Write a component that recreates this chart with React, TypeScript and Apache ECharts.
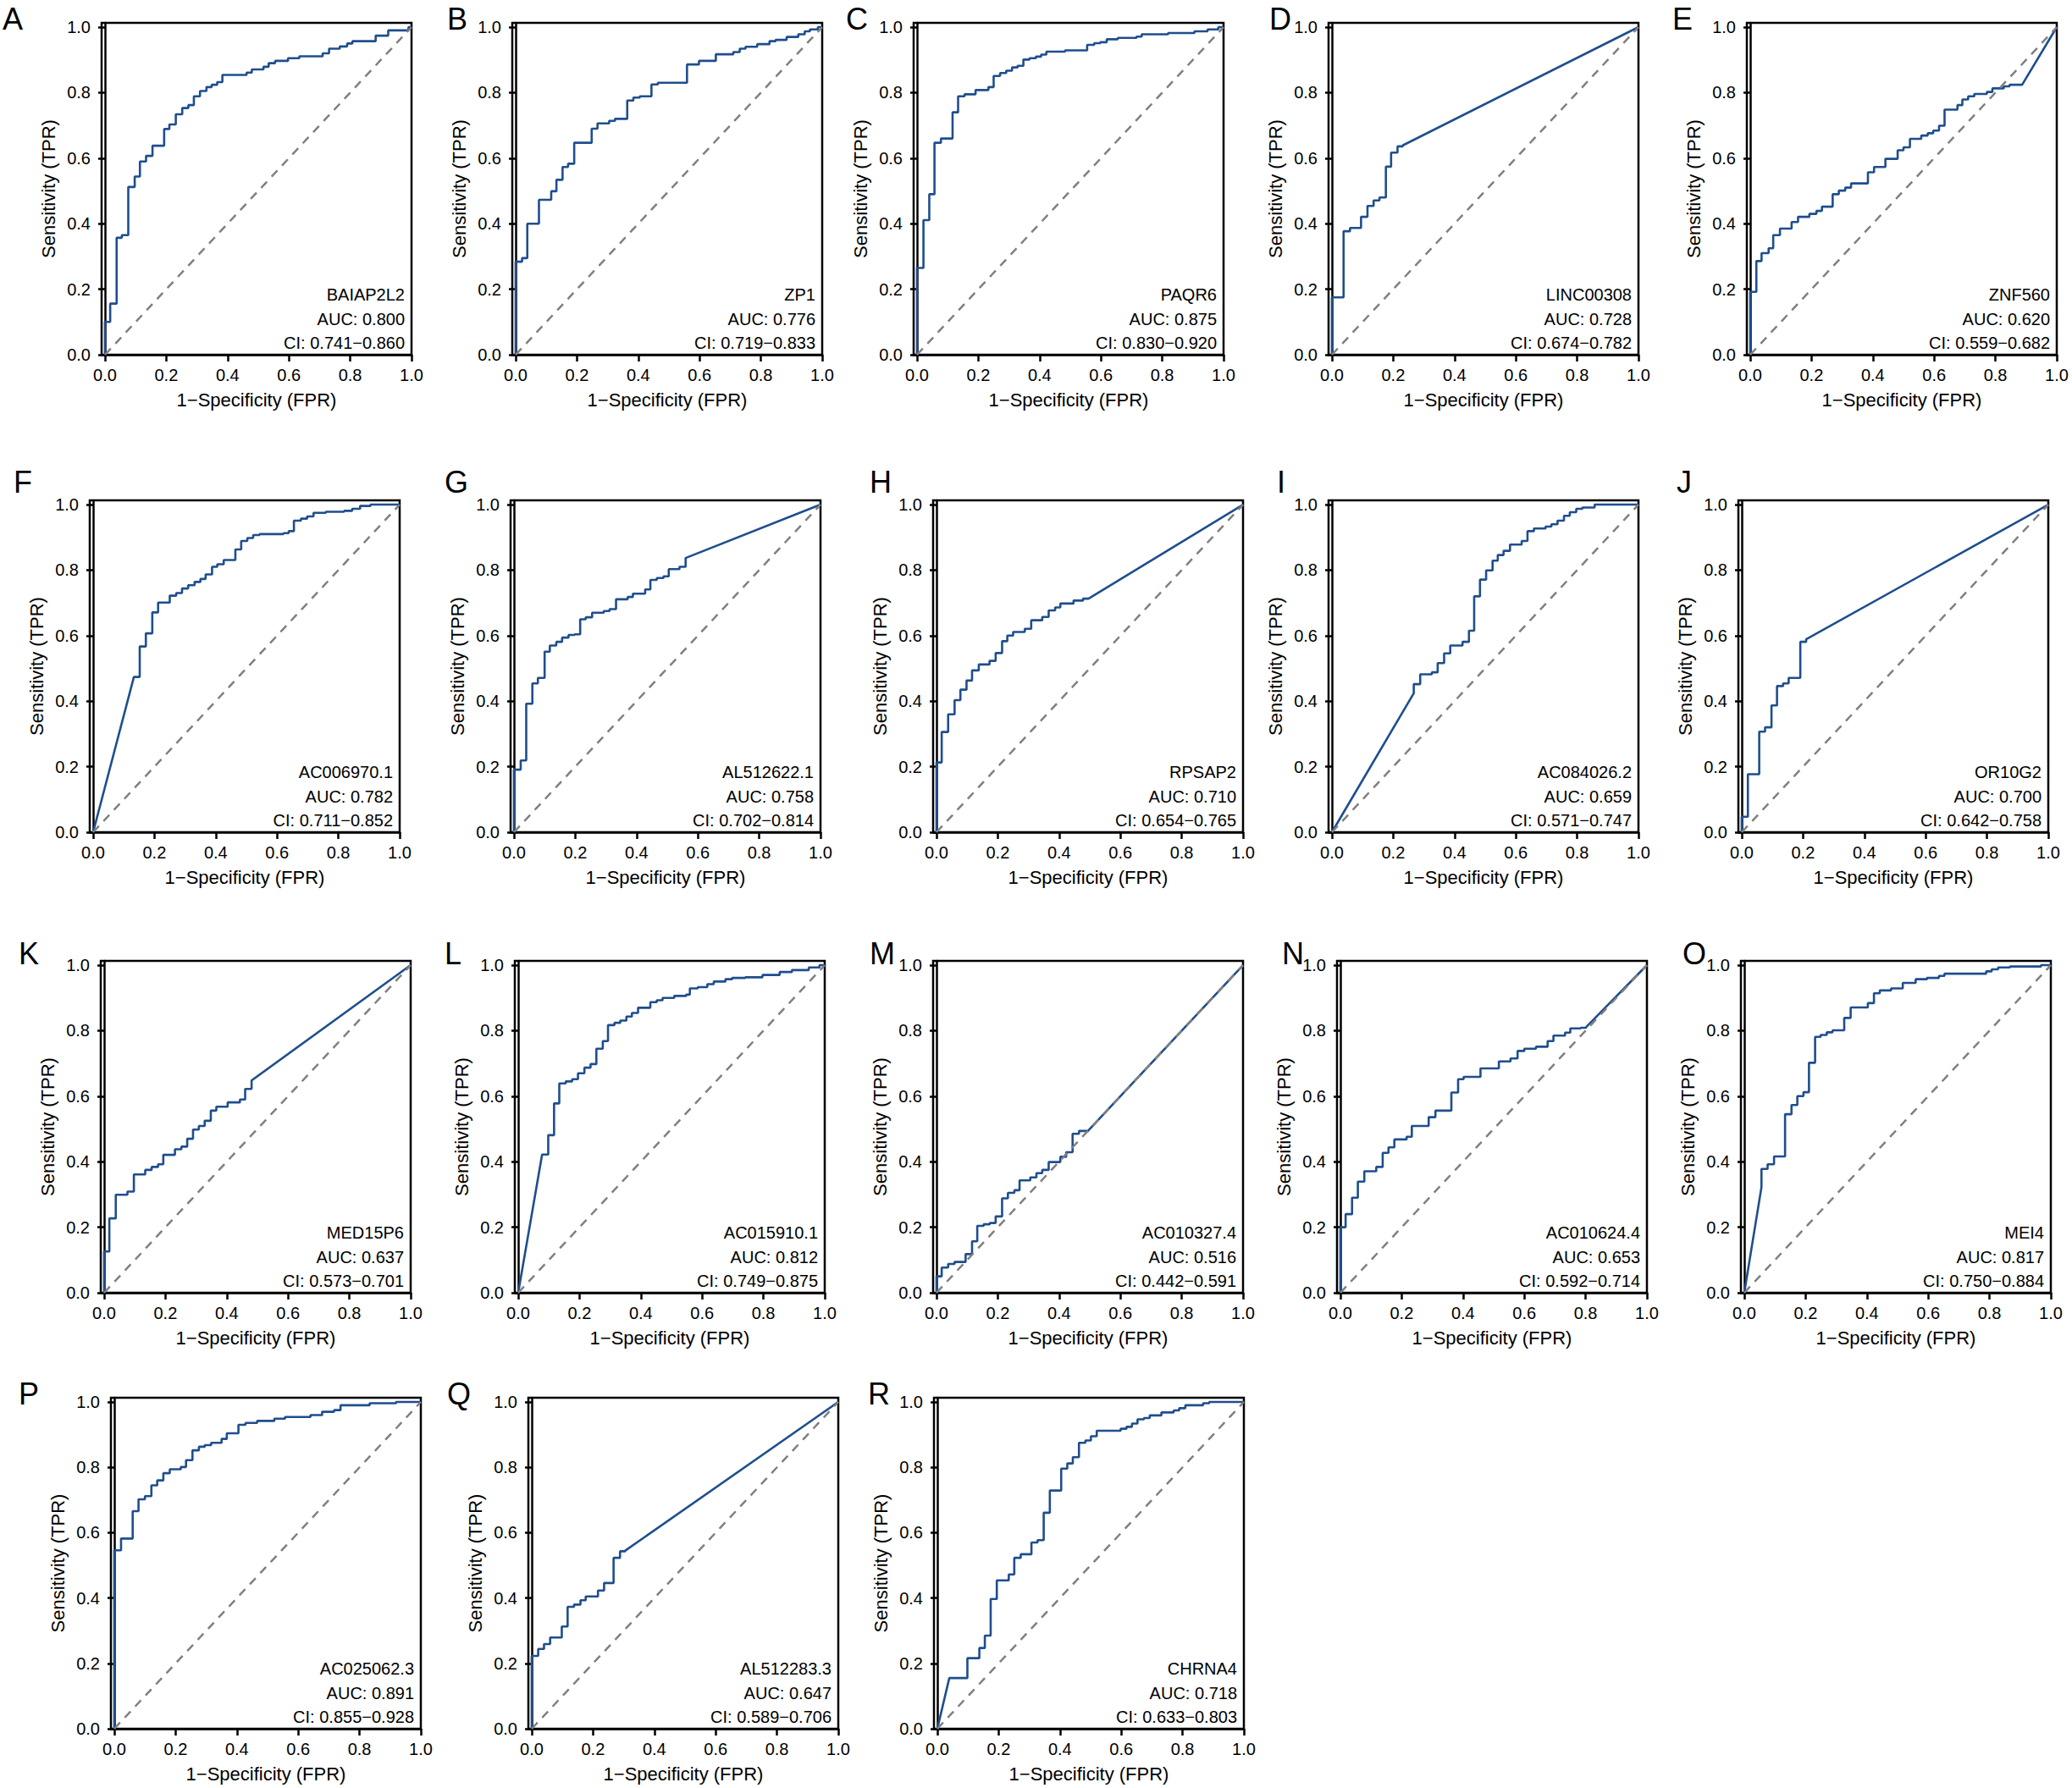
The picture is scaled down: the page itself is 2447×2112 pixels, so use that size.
import React, { useEffect, useRef } from "react";
import * as echarts from "echarts";

// ---------- DATA ----------
const TICKS = [0, 0.2, 0.4, 0.6, 0.8, 1.0];
const LETTERS = ["A","B","C","D","E","F","G","H","I","J","K","L","M","N","O","P","Q","R"];
const GENES = ["BAIAP2L2","ZP1","PAQR6","LINC00308","ZNF560","AC006970.1","AL512622.1","RPSAP2","AC084026.2","OR10G2","MED15P6","AC015910.1","AC010327.4","AC010624.4","MEI4","AC025062.3","AL512283.3","CHRNA4"];
const AUCS = ["0.800","0.776","0.875","0.728","0.620","0.782","0.758","0.710","0.659","0.700","0.637","0.812","0.516","0.653","0.817","0.891","0.647","0.718"];
const CIS = ["0.741−0.860","0.719−0.833","0.830−0.920","0.674−0.782","0.559−0.682","0.711−0.852","0.702−0.814","0.654−0.765","0.571−0.747","0.642−0.758","0.573−0.701","0.749−0.875","0.442−0.591","0.592−0.714","0.750−0.884","0.855−0.928","0.589−0.706","0.633−0.803"];

// ROC steps: [fpr, tpr] = move right to fpr, then up to tpr; [fpr, tpr, 1] = straight (tied) segment
const rocBAIAP2L2 = [[0,0.10],[0.017,0.156],[0.038,0.357],[0.055,0.365],[0.076,0.512],[0.097,0.544],[0.114,0.59],[0.134,0.607],[0.155,0.638],[0.193,0.689],[0.21,0.703],[0.231,0.734],[0.252,0.753],[0.272,0.762],[0.29,0.789],[0.31,0.805],[0.331,0.817],[0.348,0.824],[0.366,0.832],[0.383,0.854],[0.462,0.861],[0.479,0.871],[0.517,0.879],[0.534,0.89],[0.555,0.897],[0.597,0.905],[0.634,0.911],[0.71,0.92],[0.731,0.934],[0.766,0.941],[0.79,0.95],[0.807,0.957],[0.883,0.974],[0.924,0.99],[0.99,1],[1,1]];
const rocZP1 = [[0,0.284],[0.021,0.295],[0.038,0.40],[0.076,0.473],[0.116,0.499],[0.133,0.534],[0.153,0.573],[0.171,0.583],[0.191,0.647],[0.248,0.69],[0.267,0.706],[0.305,0.714],[0.324,0.72],[0.364,0.776],[0.384,0.785],[0.405,0.789],[0.443,0.825],[0.464,0.83],[0.559,0.886],[0.598,0.897],[0.653,0.917],[0.71,0.924],[0.731,0.934],[0.75,0.94],[0.788,0.948],[0.828,0.957],[0.848,0.961],[0.884,0.97],[0.922,0.978],[0.943,0.987],[0.96,0.993],[0.986,1],[1,1]];
const rocPAQR6 = [[0,0.265],[0.021,0.411],[0.04,0.49],[0.057,0.647],[0.078,0.66],[0.116,0.74],[0.134,0.789],[0.155,0.795],[0.191,0.808],[0.233,0.817],[0.25,0.851],[0.271,0.86],[0.291,0.867],[0.31,0.877],[0.328,0.882],[0.347,0.901],[0.367,0.905],[0.388,0.91],[0.405,0.916],[0.422,0.925],[0.483,0.929],[0.555,0.946],[0.578,0.951],[0.598,0.954],[0.619,0.963],[0.655,0.967],[0.716,0.971],[0.733,0.978],[0.819,0.982],[0.905,0.987],[0.948,0.993],[0.983,1],[1,1]];
const rocLINC00308 = [[0,0.175],[0.038,0.377],[0.059,0.387],[0.095,0.421],[0.116,0.454],[0.136,0.471],[0.155,0.48],[0.176,0.574],[0.193,0.617],[0.214,0.636],[0.231,0.639],[1,1,1]];
const rocZNF560 = [[0,0.192],[0.02,0.286],[0.037,0.31],[0.06,0.325],[0.075,0.365],[0.097,0.385],[0.135,0.405],[0.156,0.421],[0.193,0.43],[0.216,0.439],[0.234,0.452],[0.269,0.49],[0.289,0.501],[0.31,0.51],[0.329,0.523],[0.384,0.557],[0.404,0.573],[0.441,0.598],[0.481,0.624],[0.5,0.633],[0.521,0.659],[0.558,0.669],[0.579,0.676],[0.597,0.684],[0.616,0.699],[0.634,0.748],[0.676,0.762],[0.692,0.779],[0.711,0.789],[0.731,0.796],[0.772,0.802],[0.79,0.813],[0.827,0.819],[0.846,0.824],[0.887,0.824],[1,1,1]];
const rocAC006970 = [[0.133,0.474,1],[0.152,0.567],[0.172,0.607],[0.193,0.671],[0.212,0.701],[0.25,0.722],[0.271,0.73],[0.29,0.744],[0.31,0.754],[0.331,0.764],[0.35,0.773],[0.367,0.787],[0.388,0.81],[0.405,0.818],[0.426,0.831],[0.464,0.863],[0.483,0.889],[0.503,0.898],[0.522,0.907],[0.543,0.91],[0.621,0.913],[0.638,0.919],[0.655,0.951],[0.678,0.957],[0.698,0.964],[0.719,0.975],[0.759,0.978],[0.819,0.981],[0.845,0.987],[0.871,0.996],[0.905,1],[1,1]];
const rocAL512622 = [[0,0.191],[0.022,0.219],[0.04,0.392],[0.06,0.454],[0.078,0.471],[0.1,0.551],[0.117,0.57],[0.138,0.581],[0.157,0.594],[0.178,0.602],[0.198,0.604],[0.216,0.65],[0.234,0.656],[0.255,0.67],[0.293,0.675],[0.312,0.681],[0.333,0.711],[0.371,0.718],[0.388,0.728],[0.428,0.741],[0.445,0.77],[0.466,0.776],[0.488,0.781],[0.505,0.803],[0.54,0.81],[0.56,0.837],[1,1,1]];
const rocRPSAP2 = [[0,0.213],[0.017,0.306],[0.038,0.36],[0.059,0.403],[0.078,0.435],[0.098,0.463],[0.116,0.494],[0.138,0.512],[0.173,0.523],[0.193,0.547],[0.214,0.583],[0.231,0.6],[0.25,0.611],[0.288,0.621],[0.309,0.647],[0.345,0.657],[0.366,0.677],[0.387,0.686],[0.404,0.698],[0.447,0.707],[0.478,0.713],[0.496,0.713],[1,1,1]];
const rocAC084026 = [[0.267,0.424,1],[0.267,0.452],[0.288,0.482],[0.326,0.488],[0.345,0.516],[0.366,0.546],[0.386,0.57],[0.426,0.581],[0.447,0.615],[0.464,0.72],[0.483,0.771],[0.503,0.799],[0.524,0.829],[0.541,0.846],[0.56,0.859],[0.581,0.878],[0.619,0.889],[0.638,0.919],[0.659,0.927],[0.697,0.933],[0.716,0.94],[0.736,0.951],[0.757,0.966],[0.776,0.977],[0.797,0.987],[0.817,0.991],[0.857,1],[1,1]];
const rocOR10G2 = [[0,0.047],[0.02,0.177],[0.057,0.307],[0.076,0.32],[0.097,0.387],[0.115,0.446],[0.135,0.454],[0.153,0.471],[0.191,0.581],[0.21,0.589],[1,1,1]];
const rocMED15P6 = [[0,0.126],[0.017,0.227],[0.038,0.299],[0.076,0.309],[0.097,0.361],[0.134,0.375],[0.155,0.384],[0.176,0.392],[0.193,0.421],[0.231,0.438],[0.252,0.446],[0.271,0.47],[0.29,0.498],[0.309,0.509],[0.328,0.525],[0.348,0.556],[0.366,0.568],[0.403,0.581],[0.443,0.59],[0.46,0.622],[0.481,0.648],[1,1,1]];
const rocAC015910 = [[0.078,0.422,1],[0.098,0.481],[0.117,0.578],[0.134,0.639],[0.155,0.645],[0.176,0.652],[0.195,0.67],[0.216,0.687],[0.236,0.698],[0.255,0.745],[0.276,0.768],[0.293,0.817],[0.314,0.824],[0.333,0.831],[0.353,0.843],[0.371,0.854],[0.391,0.87],[0.431,0.887],[0.452,0.893],[0.471,0.9],[0.509,0.906],[0.548,0.91],[0.56,0.929],[0.586,0.933],[0.617,0.942],[0.638,0.95],[0.676,0.957],[0.698,0.961],[0.741,0.963],[0.797,0.97],[0.853,0.979],[0.893,0.985],[0.948,0.993],[0.983,1],[1,1]];
const rocAC010327 = [[0,0.05],[0.017,0.077],[0.038,0.088],[0.059,0.094],[0.095,0.118],[0.116,0.157],[0.133,0.204],[0.154,0.209],[0.174,0.213],[0.193,0.233],[0.214,0.288],[0.233,0.305],[0.254,0.313],[0.271,0.343],[0.306,0.352],[0.326,0.365],[0.345,0.375],[0.366,0.399],[0.404,0.415],[0.423,0.429],[0.444,0.485],[0.465,0.494],[0.496,0.496],[1,1,1]];
const rocAC010624 = [[0,0.2],[0.017,0.24],[0.038,0.29],[0.057,0.339],[0.078,0.371],[0.117,0.384],[0.138,0.427],[0.157,0.444],[0.176,0.468],[0.216,0.476],[0.233,0.509],[0.288,0.536],[0.31,0.556],[0.362,0.611],[0.384,0.652],[0.402,0.659],[0.457,0.685],[0.517,0.706],[0.555,0.715],[0.578,0.738],[0.6,0.745],[0.638,0.751],[0.676,0.768],[0.695,0.785],[0.733,0.794],[0.75,0.807],[0.784,0.809],[0.802,0.811],[1,1,1]];
const rocMEI4 = [[0.056,0.322,1],[0.056,0.378],[0.076,0.392],[0.097,0.416],[0.133,0.545],[0.154,0.573],[0.173,0.6],[0.193,0.612],[0.211,0.702],[0.231,0.781],[0.249,0.787],[0.269,0.795],[0.288,0.801],[0.326,0.839],[0.347,0.871],[0.403,0.884],[0.423,0.914],[0.442,0.923],[0.479,0.929],[0.517,0.946],[0.559,0.957],[0.596,0.961],[0.635,0.967],[0.653,0.974],[0.789,0.981],[0.807,0.987],[0.828,0.993],[0.867,0.996],[0.968,1],[1,1]];
const rocAC025062 = [[0,0.546],[0.022,0.582],[0.06,0.666],[0.079,0.702],[0.1,0.712],[0.121,0.745],[0.14,0.76],[0.16,0.782],[0.181,0.794],[0.217,0.801],[0.234,0.822],[0.255,0.852],[0.276,0.863],[0.295,0.868],[0.316,0.875],[0.35,0.887],[0.367,0.904],[0.405,0.93],[0.428,0.936],[0.466,0.942],[0.522,0.949],[0.557,0.954],[0.64,0.96],[0.678,0.97],[0.717,0.975],[0.738,0.99],[0.833,0.996],[0.919,1],[1,1]];
const rocAL512283 = [[0,0.223],[0.021,0.244],[0.04,0.259],[0.06,0.279],[0.098,0.313],[0.117,0.373],[0.138,0.38],[0.159,0.393],[0.176,0.405],[0.216,0.423],[0.236,0.446],[0.267,0.523],[0.288,0.543],[0.305,0.545],[1,1,1]];
const rocCHRNA4 = [[0.039,0.155,1],[0.098,0.216],[0.137,0.247],[0.155,0.285],[0.174,0.397],[0.194,0.454],[0.233,0.472],[0.251,0.523],[0.272,0.534],[0.307,0.57],[0.327,0.577],[0.347,0.661],[0.367,0.729],[0.404,0.796],[0.424,0.812],[0.442,0.831],[0.462,0.875],[0.483,0.882],[0.501,0.895],[0.52,0.912],[0.598,0.918],[0.617,0.924],[0.635,0.934],[0.653,0.947],[0.674,0.951],[0.693,0.959],[0.731,0.968],[0.771,0.974],[0.789,0.981],[0.809,0.99],[0.867,0.996],[0.887,1],[1,1]];

const CURVES = [rocBAIAP2L2, rocZP1, rocPAQR6, rocLINC00308, rocZNF560, rocAC006970, rocAL512622, rocRPSAP2, rocAC084026, rocOR10G2, rocMED15P6, rocAC015910, rocAC010327, rocAC010624, rocMEI4, rocAC025062, rocAL512283, rocCHRNA4];

// ---------- LAYOUT ----------
const W = 2447, H = 2112;
const ROW_TOP = [27, 591, 1135, 1651];
const ROW_H = [392, 392, 392, 391];
const ROW_LEFTS = [
  [120, 605, 1079, 1569, 2063],
  [106, 603, 1102, 1569, 2053],
  [119, 608, 1102, 1579, 2056],
  [131, 624, 1103],
];
const BOX_W = 366;
const LETTER_Y = [20, 567, 1124, 1644];
const LETTER_X = [3, 528, 999, 1499, 1975, 16, 525, 1027, 1508, 1980, 22, 525, 1027, 1514, 1987, 22, 528, 1025];
const XMIN = -0.011, YMAX = 1.013;
const FONT = "'Liberation Sans', Arial, Helvetica, sans-serif";
const BLUE = "#1f4e8d";

function buildPath(steps: number[][]) {
  const pts: number[][] = [[0, 0]];
  let py = 0;
  for (const s of steps) {
    const [x, y, d] = s;
    if (d) pts.push([x, y]);
    else { pts.push([x, py]); pts.push([x, y]); }
    py = y;
  }
  return pts;
}

export default function App() {
  const ref = useRef<HTMLDivElement>(null);
  useEffect(() => {
    document.body.style.margin = "0";
    const chart = echarts.init(ref.current!, null, { renderer: "svg", width: W, height: H });
    const grids: any[] = [], xAxes: any[] = [], yAxes: any[] = [], series: any[] = [], graphics: any[] = [];
    let idx = 0;
    ROW_LEFTS.forEach((lefts, r) => {
      lefts.forEach((left) => {
        const i = idx++;
        const top = ROW_TOP[r], h = ROW_H[r];
        grids.push({ left, top, width: BOX_W, height: h, show: true, borderColor: "#000", borderWidth: 2.5, backgroundColor: "transparent" });
        xAxes.push({
          type: "value", gridIndex: i, min: XMIN, max: 1,
          name: "1−Specificity (FPR)", nameLocation: "middle", nameGap: 42,
          nameTextStyle: { fontSize: 22, color: "#000", fontFamily: FONT },
          axisLine: { show: true, lineStyle: { color: "#000", width: 2.5 } },
          axisTick: { show: true, length: 8, lineStyle: { color: "#000", width: 2.5 }, customValues: TICKS },
          axisLabel: { fontSize: 20, color: "#000", fontFamily: FONT, margin: 14, customValues: TICKS, formatter: (v: number) => v.toFixed(1) },
          splitLine: { show: false },
        });
        yAxes.push({
          type: "value", gridIndex: i, min: 0, max: YMAX,
          name: "Sensitivity (TPR)", nameLocation: "middle", nameGap: 52,
          nameTextStyle: { fontSize: 22, color: "#000", fontFamily: FONT },
          axisLine: { show: true, lineStyle: { color: "#000", width: 2.5 } },
          axisTick: { show: true, length: 8, lineStyle: { color: "#000", width: 2.5 }, customValues: TICKS },
          axisLabel: { fontSize: 20, color: "#000", fontFamily: FONT, margin: 13, customValues: TICKS, formatter: (v: number) => v.toFixed(1) },
          splitLine: { show: false },
        });
        series.push({
          type: "line", xAxisIndex: i, yAxisIndex: i, data: buildPath(CURVES[i]),
          showSymbol: false, symbol: "none", lineStyle: { color: BLUE, width: 2.6 }, z: 2, silent: true,
        });
        series.push({
          type: "line", xAxisIndex: i, yAxisIndex: i, data: [[0, 0], [1, 1]],
          showSymbol: false, symbol: "none", lineStyle: { color: "#808080", width: 2.5, type: [10, 8] }, z: 3, silent: true,
        });
        const right = left + BOX_W - 8;
        const y0 = top + h;
        [GENES[i], "AUC: " + AUCS[i], "CI: " + CIS[i]].forEach((t, k) => {
          graphics.push({
            type: "text", x: right, y: y0 - 71 + k * 28.5, z: 10,
            style: { text: t, fill: "#000", font: `20px ${FONT}`, textAlign: "right", textVerticalAlign: "middle" },
          });
        });
        graphics.push({
          type: "text", x: LETTER_X[i], y: LETTER_Y[r] + 2, z: 10,
          style: { text: LETTERS[i], fill: "#000", font: `36px ${FONT}`, textAlign: "left", textVerticalAlign: "middle" },
        });
      });
    });
    chart.setOption({
      animation: false,
      backgroundColor: "#fff",
      grid: grids, xAxis: xAxes, yAxis: yAxes, series, graphic: graphics,
    });
    return () => chart.dispose();
  }, []);
  return <div ref={ref} style={{ width: W, height: H, background: "#fff" }} />;
}
